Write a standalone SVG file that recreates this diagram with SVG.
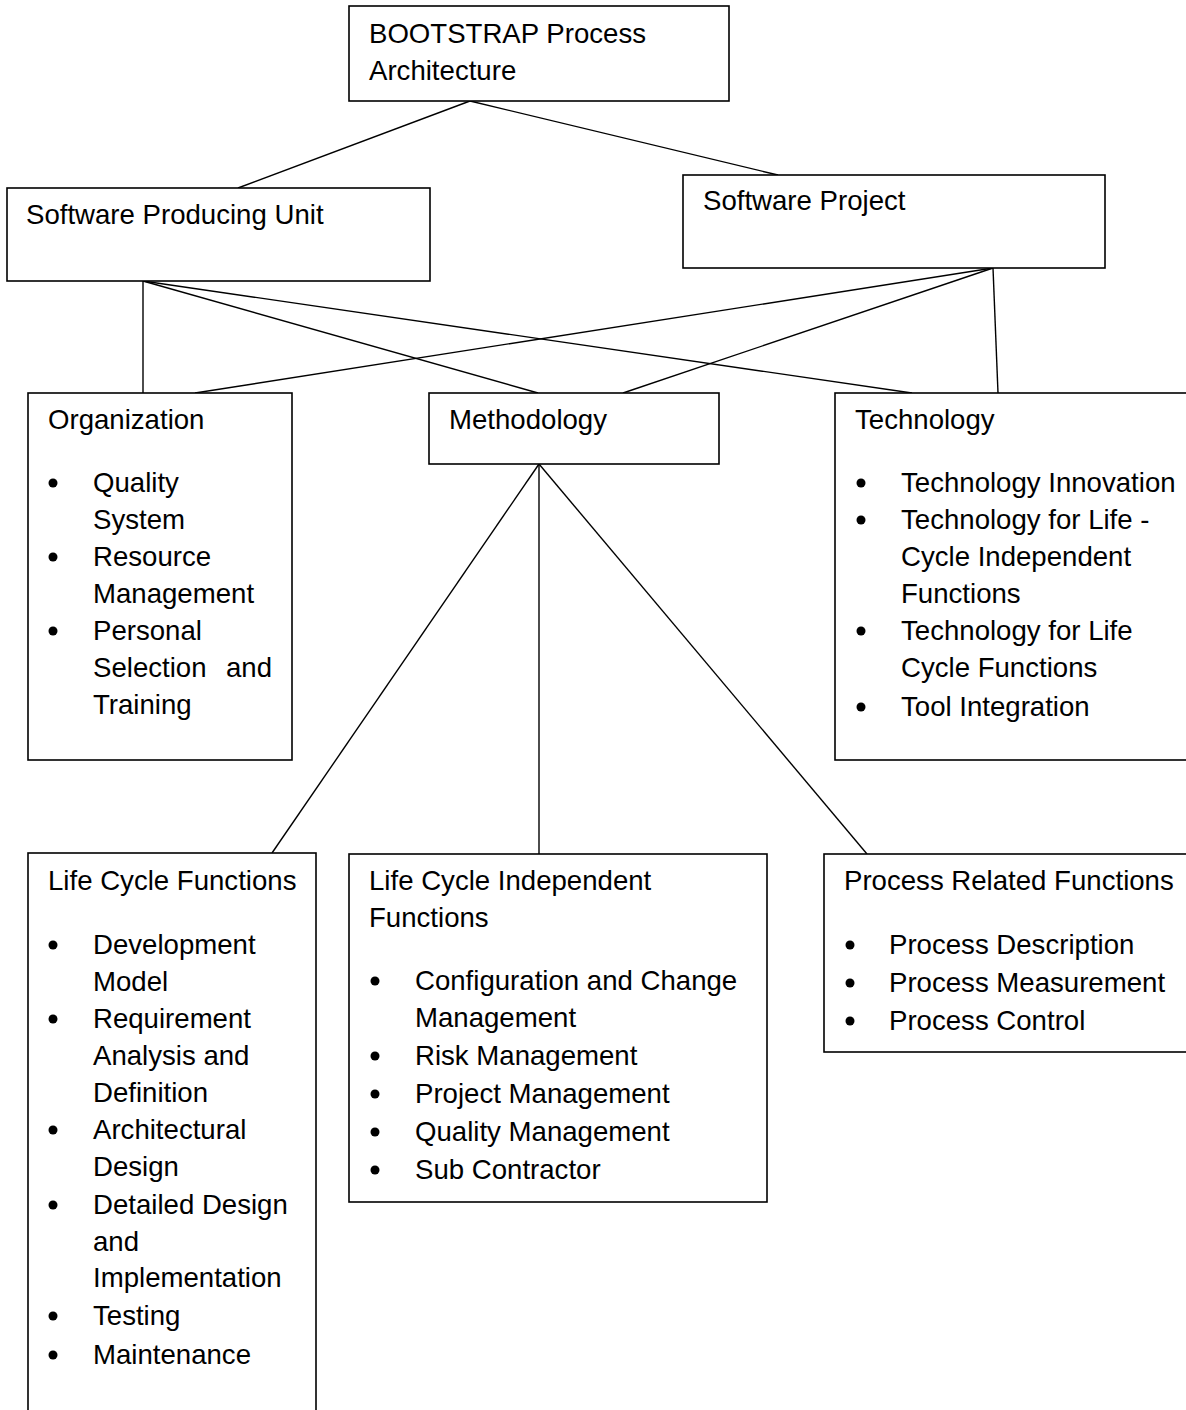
<svg xmlns="http://www.w3.org/2000/svg" width="1186" height="1410" viewBox="0 0 1186 1410">
<style>
.box{fill:#fff;stroke:#000;stroke-width:1.6}
.ln{stroke:#000;stroke-width:1.4;fill:none}
text{font-family:"Liberation Sans",Arial,sans-serif;font-size:27.6px;fill:#000}
.b{fill:#000}
</style>
<rect width="1186" height="1410" fill="#fff"/>
<g id="connectors">
<line class="ln" x1="470" y1="101" x2="238" y2="188"/>
<line class="ln" x1="470" y1="101" x2="778" y2="175"/>
<line class="ln" x1="143" y1="281" x2="143" y2="393"/>
<line class="ln" x1="143" y1="281" x2="538" y2="393"/>
<line class="ln" x1="143" y1="281" x2="912" y2="393"/>
<line class="ln" x1="993" y1="268" x2="195" y2="393"/>
<line class="ln" x1="993" y1="268" x2="623" y2="393"/>
<line class="ln" x1="993" y1="268" x2="998" y2="393"/>
<line class="ln" x1="539" y1="464" x2="272" y2="853"/>
<line class="ln" x1="539" y1="464" x2="539" y2="854"/>
<line class="ln" x1="539" y1="464" x2="867" y2="854"/>
</g>
<g id="bootstrap">
<rect class="box" x="349" y="6" width="380" height="95"/>
<text x="369" y="43">BOOTSTRAP Process</text>
<text x="369" y="80">Architecture</text>
</g>
<g id="spu">
<rect class="box" x="7" y="188" width="423" height="93"/>
<text x="26" y="224">Software Producing Unit</text>
</g>
<g id="sp">
<rect class="box" x="683" y="175" width="422" height="93"/>
<text x="703" y="210">Software Project</text>
</g>
<g id="organization">
<rect class="box" x="28" y="393" width="264" height="367"/>
<text x="48" y="429">Organization</text>
<circle class="b" cx="53" cy="483" r="4.5"/>
<text x="93" y="492">Quality</text>
<text x="93" y="529">System</text>
<circle class="b" cx="53" cy="557" r="4.5"/>
<text x="93" y="566">Resource</text>
<text x="93" y="603">Management</text>
<circle class="b" cx="53" cy="631" r="4.5"/>
<text x="93" y="640">Personal</text>
<text x="93" y="677">Selection</text>
<text x="272" y="677" text-anchor="end">and</text>
<text x="93" y="714">Training</text>
</g>
<g id="methodology">
<rect class="box" x="429" y="393" width="290" height="71"/>
<text x="449" y="429">Methodology</text>
</g>
<g id="technology">
<rect class="box" x="835" y="393" width="360" height="367"/>
<text x="855" y="429">Technology</text>
<circle class="b" cx="861" cy="483" r="4.5"/>
<text x="901" y="492">Technology Innovation</text>
<circle class="b" cx="861" cy="520" r="4.5"/>
<text x="901" y="529">Technology for Life -</text>
<text x="901" y="566">Cycle Independent</text>
<text x="901" y="603">Functions</text>
<circle class="b" cx="861" cy="631" r="4.5"/>
<text x="901" y="640">Technology for Life</text>
<text x="901" y="677">Cycle Functions</text>
<circle class="b" cx="861" cy="707" r="4.5"/>
<text x="901" y="716">Tool Integration</text>
</g>
<g id="lcf">
<rect class="box" x="28" y="853" width="288" height="580"/>
<text x="48" y="890">Life Cycle Functions</text>
<circle class="b" cx="53" cy="945" r="4.5"/>
<text x="93" y="954">Development</text>
<text x="93" y="991">Model</text>
<circle class="b" cx="53" cy="1019" r="4.5"/>
<text x="93" y="1028">Requirement</text>
<text x="93" y="1065">Analysis and</text>
<text x="93" y="1102">Definition</text>
<circle class="b" cx="53" cy="1130" r="4.5"/>
<text x="93" y="1139">Architectural</text>
<text x="93" y="1176">Design</text>
<circle class="b" cx="53" cy="1205" r="4.5"/>
<text x="93" y="1214">Detailed Design</text>
<text x="93" y="1251">and</text>
<text x="93" y="1287">Implementation</text>
<circle class="b" cx="53" cy="1316" r="4.5"/>
<text x="93" y="1325">Testing</text>
<circle class="b" cx="53" cy="1355" r="4.5"/>
<text x="93" y="1364">Maintenance</text>
</g>
<g id="lcif">
<rect class="box" x="349" y="854" width="418" height="348"/>
<text x="369" y="890">Life Cycle Independent</text>
<text x="369" y="927">Functions</text>
<circle class="b" cx="375" cy="981" r="4.5"/>
<text x="415" y="990">Configuration and Change</text>
<text x="415" y="1027">Management</text>
<circle class="b" cx="375" cy="1056" r="4.5"/>
<text x="415" y="1065">Risk Management</text>
<circle class="b" cx="375" cy="1094" r="4.5"/>
<text x="415" y="1103">Project Management</text>
<circle class="b" cx="375" cy="1132" r="4.5"/>
<text x="415" y="1141">Quality Management</text>
<circle class="b" cx="375" cy="1170" r="4.5"/>
<text x="415" y="1179">Sub Contractor</text>
</g>
<g id="prf">
<rect class="box" x="824" y="854" width="370" height="198"/>
<text x="844" y="890">Process Related Functions</text>
<circle class="b" cx="850" cy="945" r="4.5"/>
<text x="889" y="954">Process Description</text>
<circle class="b" cx="850" cy="983" r="4.5"/>
<text x="889" y="992">Process Measurement</text>
<circle class="b" cx="850" cy="1021" r="4.5"/>
<text x="889" y="1030">Process Control</text>
</g>
</svg>
